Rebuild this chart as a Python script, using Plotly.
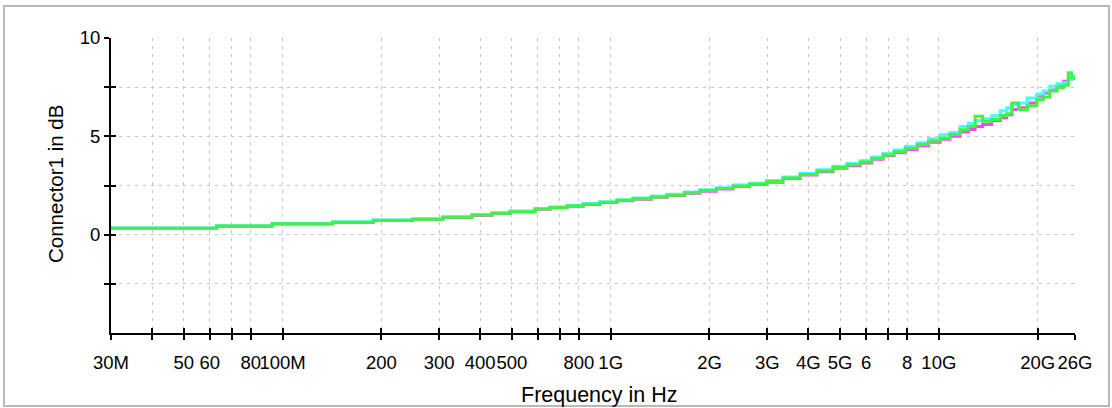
import plotly.graph_objects as go
import math

# ---- data ----
freq_ghz = [0.030, 0.063, 0.093, 0.142, 0.189, 0.249, 0.308, 0.378, 0.435, 0.493,
            0.588, 0.653, 0.736, 0.824, 0.927, 1.045, 1.169, 1.33, 1.485, 1.68,
            1.87, 2.10, 2.36, 2.65, 2.99, 3.35, 3.78, 4.25, 4.76, 5.25,
            5.76, 6.25, 6.76, 7.30, 7.90, 8.59, 9.30, 10.1, 10.8, 11.6,
            12.3, 12.9, 13.6, 14.5, 15.4, 16.1, 16.7, 17.5, 18.6, 19.9,
            20.8, 21.8, 22.9, 24.0, 24.8, 25.4, 26.0]

magenta_db = [0.32, 0.43, 0.54, 0.62, 0.72, 0.78, 0.88, 0.99, 1.08, 1.16,
              1.29, 1.37, 1.45, 1.54, 1.63, 1.73, 1.80, 1.90, 1.99, 2.10,
              2.21, 2.32, 2.45, 2.55, 2.67, 2.85, 3.03, 3.20, 3.38, 3.51,
              3.65, 3.83, 4.01, 4.17, 4.33, 4.52, 4.70, 4.85, 5.00, 5.22,
              5.35, 5.50, 5.60, 5.80, 5.94, 6.10, 6.36, 6.45, 6.70, 7.05,
              7.20, 7.35, 7.60, 7.80, 7.90, 7.95, 8.05]

cyan_db = [0.34, 0.45, 0.57, 0.66, 0.75, 0.81, 0.91, 1.03, 1.11, 1.20,
           1.33, 1.41, 1.49, 1.58, 1.68, 1.78, 1.86, 1.96, 2.05, 2.17,
           2.28, 2.39, 2.52, 2.62, 2.75, 2.93, 3.11, 3.30, 3.48, 3.62,
           3.76, 3.95, 4.13, 4.30, 4.48, 4.68, 4.88, 5.08, 5.20, 5.50,
           5.65, 5.80, 5.89, 6.05, 6.30, 6.45, 6.62, 6.70, 6.95, 7.15,
           7.30, 7.55, 7.68, 7.72, 7.90, 8.05, 8.15]

green_db = [0.33, 0.44, 0.55, 0.63, 0.73, 0.79, 0.89, 1.00, 1.09, 1.17,
            1.30, 1.38, 1.46, 1.55, 1.65, 1.75, 1.82, 1.92, 2.01, 2.13,
            2.24, 2.35, 2.48, 2.58, 2.70, 2.88, 3.06, 3.24, 3.42, 3.55,
            3.69, 3.87, 4.05, 4.22, 4.38, 4.58, 4.76, 4.92, 5.09, 5.34,
            5.50, 6.02, 5.77, 5.85, 6.06, 6.15, 6.70, 6.36, 6.55, 6.87,
            7.00, 7.30, 7.47, 7.60, 8.23, 7.98, 7.90]

x_tick_hz = [30e6, 40e6, 50e6, 60e6, 70e6, 80e6, 100e6, 200e6, 300e6, 400e6,
             500e6, 600e6, 700e6, 800e6, 1e9, 2e9, 3e9, 4e9, 5e9, 6e9,
             7e9, 8e9, 10e9, 20e9, 26e9]
x_tick_text = ["30M", "", "50", "60", "", "80", "100M", "200", "300", "400",
               "500", "", "", "800", "1G", "2G", "3G", "4G", "5G", "6",
               "", "8", "10G", "20G", "26G"]
y_tick_vals = [-2.5, 0, 2.5, 5, 7.5, 10]
y_tick_text = ["", "0", "", "5", "", "10"]

x_title = "Frequency in Hz"
y_title = "Connector1 in dB"

freq_hz = [f * 1e9 for f in freq_ghz]
x_range = [math.log10(30e6), math.log10(26e9)]
y_range = [-5, 10]

FONT = "Arial, Liberation Sans, sans-serif"
TICK_SIZE = 18.5

# plot area in pixels
L, R, T, B = 111, 1075, 38, 333
W, H = R - L, B - T

fig = go.Figure()
series = [(magenta_db, "#ff44ff", "x", "y"),
          (cyan_db, "#44ffff", "x", "y"),
          (green_db, "#44f044", "x2", "y2")]
for vals, col, xa, ya in series:
    fig.add_trace(go.Scatter(x=freq_hz, y=vals, mode="lines", xaxis=xa, yaxis=ya,
                             line=dict(color=col, width=3, shape="hv"),
                             showlegend=False, hoverinfo="skip"))

grid = dict(showgrid=True, gridcolor="#c4c4c4", gridwidth=1, griddash="3px,5px")

fig.update_layout(
    width=1112, height=408,
    margin=dict(l=L, r=1112 - R, t=T, b=408 - B),
    paper_bgcolor="white", plot_bgcolor="white",
    font=dict(family=FONT, size=TICK_SIZE, color="black"),
    showlegend=False,
    xaxis=dict(type="log", range=x_range, tickvals=x_tick_hz, ticktext=x_tick_text,
               ticks="outside", ticklen=5, tickwidth=2, tickcolor="black",
               tickangle=0, automargin=False, ticklabelstandoff=7,
               showline=True, linecolor="black", linewidth=2,
               zeroline=False, **grid),
    yaxis=dict(range=y_range, tickvals=y_tick_vals, ticktext=y_tick_text,
               ticks="outside", ticklen=5, tickwidth=2, tickcolor="black",
               automargin=False,
               showline=True, linecolor="black", linewidth=2,
               zeroline=False, **grid),
    xaxis2=dict(type="log", range=x_range, tickvals=x_tick_hz, overlaying="x",
                anchor="y2", side="bottom", ticks="inside", ticklen=5, tickwidth=2,
                tickcolor="black", showticklabels=False, showgrid=False,
                zeroline=False, showline=False, automargin=False),
    yaxis2=dict(range=y_range, tickvals=y_tick_vals, overlaying="y", anchor="x2",
                side="left", ticks="inside", ticklen=5, tickwidth=2,
                tickcolor="black", showticklabels=False, showgrid=False,
                zeroline=False, showline=False, automargin=False),
)

fig.add_annotation(text=x_title, xref="paper", yref="paper",
                   x=(599 - L) / W, y=(B - 395) / H, xanchor="center", yanchor="middle",
                   showarrow=False, font=dict(size=21.5))
fig.add_annotation(text=y_title, xref="paper", yref="paper", textangle=-90,
                   x=(55 - L) / W, y=(B - 184) / H, xanchor="center", yanchor="middle",
                   showarrow=False, font=dict(size=20.5))

fig.add_shape(type="rect", xref="paper", yref="paper",
              x0=(4 - L) / W, x1=(1109 - L) / W,
              y0=(B - 406) / H, y1=(B - 6) / H,
              line=dict(color="#b8b8b8", width=2), fillcolor="rgba(0,0,0,0)",
              layer="below")

fig.write_html("out.html")
